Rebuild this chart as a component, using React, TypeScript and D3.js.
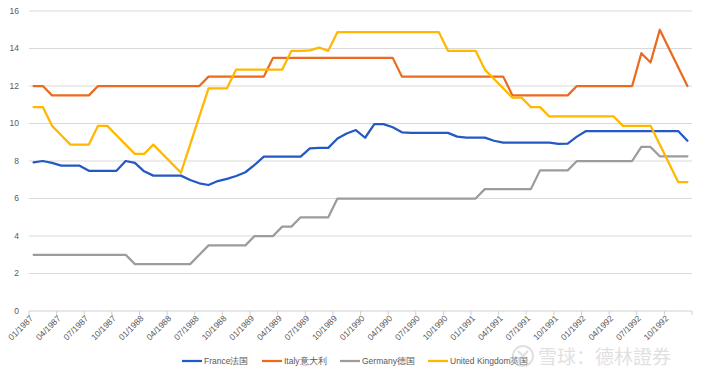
import React from "react";
import * as d3 from "d3";

const W = 705;
const H = 377;

const yearsRange = [1987, 1988, 1989, 1990, 1991, 1992];
const months = ["01", "02", "03", "04", "05", "06", "07", "08", "09", "10", "11", "12"];
const categories: string[] = yearsRange.flatMap((y) => months.map((m) => `${m}/${y}`));

const france = [
  7.93, 8.0, 7.9, 7.75, 7.75, 7.75, 7.48, 7.48, 7.48, 7.48, 8.0, 7.9,
  7.45, 7.22, 7.22, 7.22, 7.22, 6.99, 6.81, 6.72, 6.93, 7.05, 7.2, 7.4,
  7.79, 8.23, 8.23, 8.23, 8.23, 8.23, 8.67, 8.7, 8.7, 9.2, 9.47, 9.65,
  9.24, 9.97, 9.97, 9.8, 9.53, 9.5, 9.5, 9.5, 9.5, 9.5, 9.3, 9.25,
  9.25, 9.25, 9.08, 8.98, 8.98, 8.98, 8.98, 8.98, 8.98, 8.91, 8.93, 9.3,
  9.6, 9.6, 9.6, 9.6, 9.6, 9.6, 9.6, 9.6, 9.6, 9.6, 9.6, 9.08,
];

const italy = [
  12, 12, 11.5, 11.5, 11.5, 11.5, 11.5, 12, 12, 12, 12, 12,
  12, 12, 12, 12, 12, 12, 12, 12.5, 12.5, 12.5, 12.5, 12.5,
  12.5, 12.5, 13.5, 13.5, 13.5, 13.5, 13.5, 13.5, 13.5, 13.5, 13.5, 13.5,
  13.5, 13.5, 13.5, 13.5, 12.5, 12.5, 12.5, 12.5, 12.5, 12.5, 12.5, 12.5,
  12.5, 12.5, 12.5, 12.5, 11.5, 11.5, 11.5, 11.5, 11.5, 11.5, 11.5, 12,
  12, 12, 12, 12, 12, 12, 13.75, 13.25, 15, 14, 13, 12,
];

const germany = [
  3, 3, 3, 3, 3, 3, 3, 3, 3, 3, 3, 2.5,
  2.5, 2.5, 2.5, 2.5, 2.5, 2.5, 3, 3.5, 3.5, 3.5, 3.5, 3.5,
  4, 4, 4, 4.5, 4.5, 5, 5, 5, 5, 6, 6, 6,
  6, 6, 6, 6, 6, 6, 6, 6, 6, 6, 6, 6,
  6, 6.5, 6.5, 6.5, 6.5, 6.5, 6.5, 7.5, 7.5, 7.5, 7.5, 8,
  8, 8, 8, 8, 8, 8, 8.75, 8.75, 8.25, 8.25, 8.25, 8.25,
];

const uk = [
  10.875, 10.875, 9.875, 9.375, 8.875, 8.875, 8.875, 9.875, 9.875, 9.375, 8.875, 8.375,
  8.375, 8.875, 8.375, 7.875, 7.375, 8.875, 10.375, 11.875, 11.875, 11.875, 12.875, 12.875,
  12.875, 12.875, 12.875, 12.875, 13.875, 13.875, 13.9, 14.05, 13.875, 14.875, 14.875, 14.875,
  14.875, 14.875, 14.875, 14.875, 14.875, 14.875, 14.875, 14.875, 14.875, 13.875, 13.875, 13.875,
  13.875, 12.875, 12.375, 11.875, 11.375, 11.375, 10.875, 10.875, 10.375, 10.375, 10.375, 10.375,
  10.375, 10.375, 10.375, 10.375, 9.875, 9.875, 9.875, 9.875, 8.875, 7.875, 6.875, 6.875,
];

const seriesNames = ["France法国", "Italy意大利", "Germany德国", "United Kingdom英国"];
const seriesValues = [france, italy, germany, uk];
const seriesColors = ["#2459c4", "#eb6a1e", "#9c9c9c", "#ffb700"];

const yTicks = [0, 2, 4, 6, 8, 10, 12, 14, 16];

export default function App() {
  const left = 29;
  const right = 692;
  const top = 11;
  const bottom = 311;

  const x = d3.scaleBand<number>().domain(d3.range(categories.length)).range([left, right]);
  const cx = (i: number) => (x(i) ?? 0) + x.bandwidth() / 2;
  const y = d3.scaleLinear().domain([0, 16]).range([bottom, top]);

  const line = d3
    .line<number>()
    .x((_, i) => cx(i))
    .y((d) => y(d));

  const labelIdx = d3.range(0, categories.length, 3);
  const tickIdx = d3.range(0, categories.length + 1, 3);

  const legendX = [182, 262, 340, 428];
  const legendY = 361;

  return (
    <svg
      width={W}
      height={H}
      style={{ position: "absolute", left: 0, top: 0, background: "#fff" }}
      fontFamily="'Liberation Sans', Arial, sans-serif"
    >
      <rect x={0} y={0} width={W} height={H} fill="#fff" />
      {yTicks.map((t) => (
        <g key={t}>
          {t > 0 && (
            <line x1={left} x2={right} y1={y(t)} y2={y(t)} stroke="#d9d9d9" strokeWidth={1} />
          )}
          <text x={19} y={y(t)} dy="0.35em" textAnchor="end" fontSize={8.5} fill="#595959">
            {t}
          </text>
        </g>
      ))}
      <line x1={left} x2={right} y1={bottom} y2={bottom} stroke="#d0d0d0" strokeWidth={1} />
      {tickIdx.map((i) => {
        const xx = i < categories.length ? x(i) ?? 0 : right;
        return <line key={i} x1={xx} x2={xx} y1={bottom} y2={bottom + 4} stroke="#d0d0d0" strokeWidth={1} />;
      })}
      {labelIdx.map((i) => (
        <text
          key={i}
          transform={`translate(${cx(i)},${bottom + 8}) rotate(-45)`}
          textAnchor="end"
          fontSize={8.5}
          fill="#595959"
        >
          {categories[i]}
        </text>
      ))}
      {seriesValues.map((vals, k) => (
        <path
          key={k}
          d={line(vals) ?? ""}
          fill="none"
          stroke={seriesColors[k]}
          strokeWidth={2.25}
          strokeLinejoin="round"
          strokeLinecap="round"
        />
      ))}
      {seriesNames.map((name, k) => (
        <g key={name} transform={`translate(${legendX[k]},${legendY})`}>
          <line x1={0} x2={20} y1={0} y2={0} stroke={seriesColors[k]} strokeWidth={2.25} />
          <text x={22} y={0} dy="0.35em" fontSize={8.5} fill="#595959">
            {name}
          </text>
        </g>
      ))}
      <g opacity={0.55}>
        <circle cx={523} cy={356} r={10} fill="none" stroke="#c8c8c8" strokeWidth={2} />
        <path d="M518,351 L528,361 M528,351 L518,361" stroke="#c8c8c8" strokeWidth={2.2} fill="none" />
        <text x={538} y={357} dy="0.35em" fontSize={19} fill="#c8c8c8" fontFamily="'Noto Sans CJK SC', sans-serif">
          雪球：德林證券
        </text>
      </g>
    </svg>
  );
}
